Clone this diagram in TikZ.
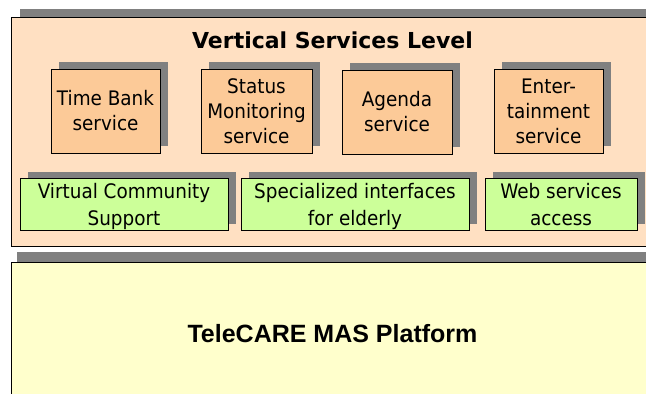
\documentclass[tikz,border=0pt]{standalone}
\usepackage{fontspec}
\usepackage{tikz}
\usetikzlibrary{positioning}

\newfontfamily\boxfont[FakeStretch=0.92]{DejaVu Sans}
\newfontfamily\titlefont{DejaVu Sans}
\newfontfamily\platformfont{Liberation Sans}

\definecolor{panelpeach}{RGB}{255,224,194}
\definecolor{servicefill}{RGB}{252,202,152}
\definecolor{supportfill}{RGB}{204,255,153}
\definecolor{platformfill}{RGB}{255,255,204}
\definecolor{shadowgray}{RGB}{128,128,128}

\begin{document}
\begin{tikzpicture}[x=1pt, y=-1pt]
    % --- Style Definitions ---
    \tikzset{
        drop box/.style={
            preaction={fill=shadowgray, transform canvas={shift={(#1)}}}
        },
        panel style/.style={
            draw=black,
            line width=0.8pt,
            minimum width=690pt,
            inner sep=0pt,
            outer sep=0pt
        },
        service style/.style={
            draw=black,
            line width=0.8pt,
            fill=servicefill,
            drop box={8pt,7pt},
            minimum height=84pt,
            inner sep=0pt,
            align=center,
            font=\boxfont\fontsize{20}{25}\selectfont
        },
        support style/.style={
            draw=black,
            line width=0.8pt,
            fill=supportfill,
            drop box={8pt,6pt},
            minimum height=52pt,
            inner sep=0pt,
            text depth=0pt,
            align=center,
            font=\boxfont\fontsize{20}{27}\selectfont
        }
    }

    \useasboundingbox (0,0) rectangle (646,394);
    \clip (0,0) rectangle (646,394);

    % --- 1. Vertical Services Level (upper panel) ---
    \node[panel style, fill=panelpeach, drop box={9pt,8pt},
        minimum height=229pt] (services) at (356,131.5) {};
    \node[font=\titlefont\bfseries\fontsize{22}{26}\selectfont, anchor=base]
        (level title) at (332.5,48) {Vertical Services Level};

    % --- 2. Services ---
    \node[service style, minimum width=109pt] (time bank) at (105.5,111) {Time Bank\\service};
    \node[service style, minimum width=111pt] (status) at (256.5,111) {Status\\Monitoring\\service};
    \node[service style, minimum width=110pt] (agenda) at (397,112) {Agenda\\service};
    \node[service style, minimum width=109pt] (entertainment) at (548.5,111) {Enter-\\tainment\\service};

    % --- 3. Support layer ---
    \node[support style, minimum width=208pt] (community) at (124,204) {Virtual Community\\Support};
    \node[support style, minimum width=228pt] (interfaces) at (355,204) {Specialized interfaces\\for elderly};
    \node[support style, minimum width=152pt] (web access) at (561,204) {Web services\\access};

    % --- 4. TeleCARE MAS Platform (lower panel) ---
    \node[panel style, fill=platformfill, drop box={6pt,10pt},
        minimum height=160pt] (platform) at (356,342) {};
    \node[font=\platformfont\bfseries\fontsize{25}{30}\selectfont, anchor=base]
        (platform title) at (332.5,342) {TeleCARE MAS Platform};

\end{tikzpicture}
\end{document}
